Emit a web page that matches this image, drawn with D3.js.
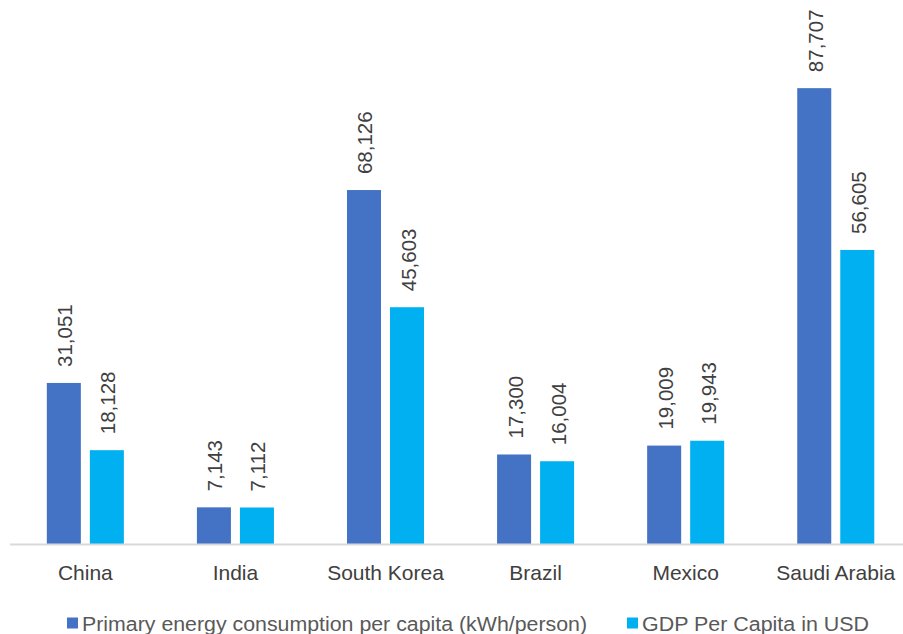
<!DOCTYPE html>
<html><head><meta charset="utf-8">
<script src="https://cdn.jsdelivr.net/npm/d3@7"></script>
<style>body{margin:0;background:#fff}svg{display:block}text{font-family:"Liberation Sans",Arial,sans-serif}</style>
</head><body>
<svg id="chart" width="903" height="634"></svg>
<script>
const categories = ["China","India","South Korea","Brazil","Mexico","Saudi Arabia"];
const seriesNames = ["Primary energy consumption per capita (kWh/person)","GDP Per Capita in USD"];
const energyValues = [31051,7143,68126,17300,19009,87707];
const gdpValues = [18128,7112,45603,16004,19943,56605];
const seriesColors = ["#4472C4","#00B0F0"];

const svg = d3.select("#chart");
const baseY = 544.5;
const x0 = d3.scaleBand().domain(categories).range([10.3, 910.8]).paddingInner(0).paddingOuter(0);
const x1 = d3.scaleBand().domain([0,1]).range([0, x0.bandwidth()]).paddingInner(9/43).paddingOuter(0.849);
const y = d3.scaleLinear().domain([0, 100000]).range([baseY, baseY - 520.3]);

const data = categories.map((c,i)=>({cat:c, vals:[energyValues[i], gdpValues[i]]}));
const fmt = d3.format(",");

const g = svg.append("g");
const groups = g.selectAll("g.cat").data(data).join("g").attr("transform", d=>`translate(${x0(d.cat)},0)`);
groups.selectAll("rect").data(d=>d.vals.map((v,k)=>({v,k}))).join("rect")
  .attr("x", d=>x1(d.k)).attr("width", x1.bandwidth())
  .attr("y", d=>y(d.v)).attr("height", d=>baseY - y(d.v))
  .attr("fill", d=>seriesColors[d.k]);
groups.selectAll("text.lbl").data(d=>d.vals.map((v,k)=>({v,k}))).join("text")
  .attr("class","lbl")
  .attr("transform", d=>`translate(${x1(d.k)+x1.bandwidth()/2+1},${y(d.v)-16}) rotate(-90)`)
  .attr("dominant-baseline","central")
  .attr("fill","#404040").attr("font-size","20.5px")
  .text(d=>fmt(d.v));

// axis
const xAxis = d3.axisBottom(x0).tickSize(0).tickPadding(21);
const ax = svg.append("g").attr("transform",`translate(0,${baseY})`).call(xAxis);
ax.select(".domain").attr("stroke","#d9d9d9").attr("stroke-width",2).attr("d",`M10,0H903`);
ax.selectAll("text").attr("font-size","21px").attr("fill","#404040").attr("font-family","Liberation Sans, Arial, sans-serif");

// legend
const leg = svg.append("g");
const legX = [67, 627];
const legW = [505, 227];
seriesNames.forEach((s,i)=>{
  leg.append("rect").attr("x",legX[i]).attr("y",617.5).attr("width",11).attr("height",11).attr("fill",seriesColors[i]);
  leg.append("text").attr("x",legX[i]+15).attr("y",623.5).attr("dominant-baseline","central")
    .attr("font-size","20px").attr("fill","#595959")
    .attr("textLength",legW[i]).attr("lengthAdjust","spacingAndGlyphs").text(s);
});
</script>
</body></html>
